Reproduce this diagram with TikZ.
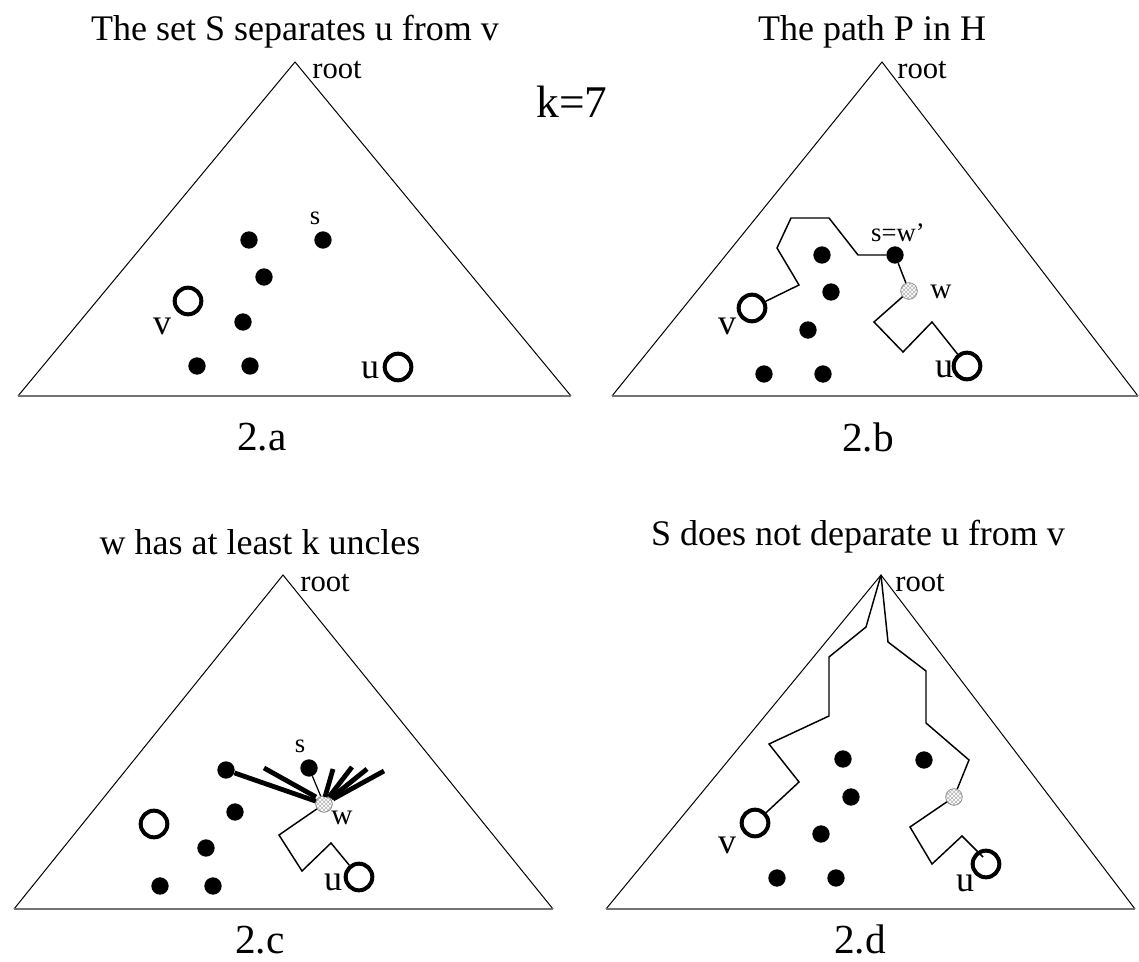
\documentclass[tikz,border=0pt]{standalone}
\usepackage{fontspec}
\setmainfont{Liberation Serif}
\usetikzlibrary{patterns}
\newcommand{\fs}[1]{\fontsize{#1}{#1}\selectfont}
\begin{document}
\begin{tikzpicture}[x=0.75pt,y=-0.75pt,
  tri/.style={draw, line width=0.75pt, line join=miter},
  basel/.style={draw=black!55, line width=1.4pt},
  dotn/.style={circle, fill=black, inner sep=0pt, minimum size=13pt},
  ring/.style={circle, draw, line width=3pt, inner sep=0pt, minimum size=20pt},
  hatch/.style={circle, draw=gray, line width=0.5pt, preaction={fill=white}, pattern=crosshatch, pattern color=gray!60, inner sep=0pt, minimum size=12.5pt},
  pth/.style={line width=1.1pt, line join=miter},
  uncle/.style={line width=3.6pt},
  ttl/.style={font=\fs{27}, inner sep=0pt},
  captionlbl/.style={font=\fs{31}, inner sep=0pt},
  rootl/.style={font=\fs{23}, inner sep=0pt},
  smalll/.style={font=\fs{20}, inner sep=0pt},
  lbl/.style={font=\fs{27}, inner sep=0pt},
  wl/.style={font=\fs{22}, inner sep=0pt}
]
\useasboundingbox (0,0) rectangle (1139,962);

% ---------- titles ----------
\node[ttl] (ta) at (295,32) {The set S separates u from v};
\node[ttl] (tb) at (872,32) {The path P in H};
\node[ttl] (tc) at (260,542) {w has at least k uncles};
\node[ttl] (td) at (858,537) {S does not deparate u from v};
\node[font=\fs{34}, inner sep=0pt] (k) at (572,102) {k=7};
\node[captionlbl] (ca) at (262,437) {2.a};
\node[captionlbl] (cb) at (868,437) {2.b};
\node[captionlbl] (cc) at (260,940) {2.c};
\node[captionlbl] (cd) at (860,939) {2.d};

% ---------- panel a ----------
\draw[tri] (18,396) -- (295,62) -- (571,396);
\draw[basel] (18,396) -- (571,396);
\node[rootl] (ra) at (337,70) {root};
\node[dotn] (a1) at (249,240) {};
\node[dotn] (as) at (323,240) {};
\node[smalll] (asl) at (315,218) {s};
\node[dotn] (a2) at (264,277) {};
\node[ring] (av) at (188,301) {};
\node[lbl] (avl) at (162,326) {v};
\node[dotn] (a3) at (243,322) {};
\node[dotn] (a4) at (197,366) {};
\node[dotn] (a5) at (250,366) {};
\node[ring] (au) at (398,367) {};
\node[lbl] (aul) at (370,370) {u};

% ---------- panel b ----------
\draw[tri] (612,396) -- (882,62) -- (1138,396);
\draw[basel] (612,396) -- (1138,396);
\node[rootl] (rb) at (922,70) {root};
\node[ring] (bv) at (752,308) {};
\node[lbl] (bvl) at (727,326) {v};
\node[dotn] (bs) at (895,255) {};
\node[smalll] (bsl) at (898,233) {s=w'};
\node[dotn] (b1) at (822,255) {};
\node[dotn] (b2) at (831,292) {};
\node[dotn] (b3) at (808,330) {};
\node[dotn] (b4) at (764,374) {};
\node[dotn] (b5) at (823,374) {};
\node[hatch] (bw) at (909,291) {};
\node[wl] (bwl) at (941,292) {w};
\node[ring] (bu) at (967,366) {};
\node[lbl] (bul) at (944,369) {u};
\draw[pth] (bv) -- (799,285) -- (777,248) -- (791,218) -- (829,218) -- (858,255) -- (bs);
\draw[pth] (bs) -- (bw);
\draw[pth] (bw) -- (874,322) -- (903,352) -- (932,322) -- (bu);

% ---------- panel c ----------
\draw[tri] (14,909) -- (283,575) -- (553,909);
\draw[basel] (14,909) -- (553,909);
\node[rootl] (rc) at (325,583) {root};
\node[dotn] (cA) at (226,770) {};
\node[dotn] (cs) at (309,768) {};
\node[smalll] (csl) at (300,746) {s};
\node[hatch] (cw) at (324,804) {};
\node[wl] (cwl) at (342,818) {w};
\node[dotn] (c1) at (235,812) {};
\node[dotn] (c2) at (206,848) {};
\node[dotn] (c3) at (160,886) {};
\node[dotn] (c4) at (213,886) {};
\node[ring] (cv) at (154,824) {};
\node[ring] (cu) at (359,877) {};
\node[lbl] (cul) at (333,882) {u};
\coordinate (e1a) at (264,768);
\coordinate (e1b) at (316,797);
\coordinate (e2a) at (333,769);
\coordinate (e2b) at (325,797);
\coordinate (e3a) at (352,767);
\coordinate (e3b) at (329,797);
\coordinate (e4a) at (367,769);
\coordinate (e4b) at (331,798);
\coordinate (e5a) at (384,771);
\coordinate (e5b) at (333,799);
\draw[uncle] (cA) -- (cw);
\draw[uncle] (e1a) -- (e1b);
\draw[uncle] (e2a) -- (e2b);
\draw[uncle] (e3a) -- (e3b);
\draw[uncle] (e4a) -- (e4b);
\draw[uncle] (e5a) -- (e5b);
\draw[line width=0.9pt] (cs) -- (cw);
\draw[pth] (cw) -- (279,835) -- (302,871) -- (331,843) -- (cu);

% ---------- panel d ----------
\coordinate (rootd) at (881,575);
\draw[tri] (606,909) -- (rootd) -- (1135,909);
\draw[basel] (606,909) -- (1135,909);
\node[rootl] (rd) at (920,583) {root};
\node[ring] (dv) at (755,823) {};
\node[lbl] (dvl) at (727,845) {v};
\node[dotn] (d1) at (843,759) {};
\node[dotn] (d2) at (924,760) {};
\node[dotn] (d3) at (851,797) {};
\node[dotn] (d4) at (821,834) {};
\node[dotn] (d5) at (777,878) {};
\node[dotn] (d6) at (836,878) {};
\node[hatch] (dw) at (954,797) {};
\node[ring] (du) at (986,864) {};
\node[lbl] (dul) at (965,883) {u};
\coordinate (dend) at (983,857);
\draw[pth] (rootd) -- (866,627) -- (829,657) -- (829,716) -- (769,744) -- (799,782) -- (dv);
\draw[pth] (rootd) -- (888,642) -- (926,671) -- (926,723) -- (969,760) -- (dw);
\draw[pth] (dw) -- (910,827) -- (932,864) -- (962,836) -- (dend);
\end{tikzpicture}
\end{document}
